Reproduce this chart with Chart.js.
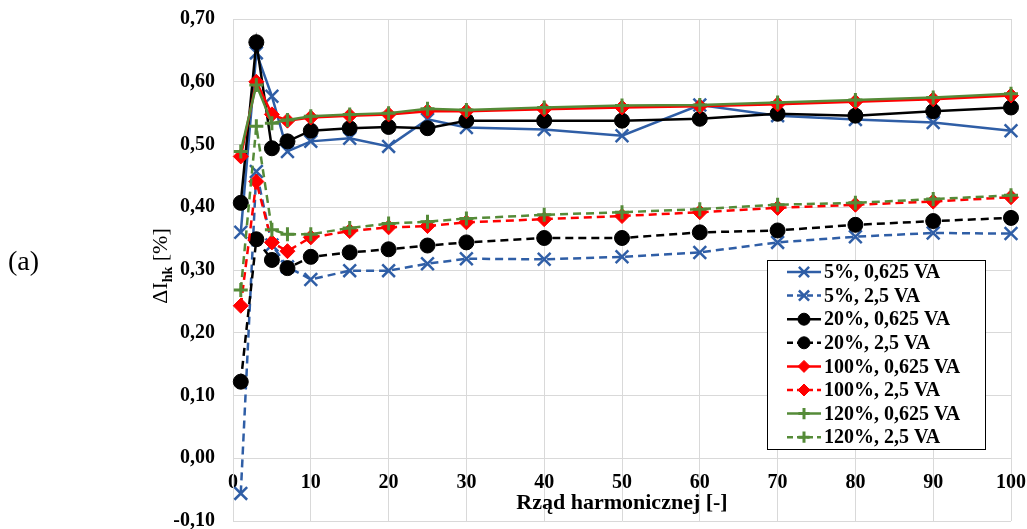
<!DOCTYPE html>
<html>
<head>
<meta charset="utf-8">
<script src="https://cdn.jsdelivr.net/npm/chart.js@4.4.1/dist/chart.umd.min.js"></script>
<style>
  html, body { margin: 0; padding: 0; background: #fff; }
  #wrap { width: 1027px; height: 529px; position: relative; }
</style>
</head>
<body>
<div id="wrap"><canvas id="chart"></canvas></div>
<script>
// harmonic order (x values)
const harmonics = [1, 3, 5, 7, 10, 15, 20, 25, 30, 40, 50, 60, 70, 80, 90, 100];

// ΔIhk [%] per series
const blue0625  = [0.360, 0.646, 0.577, 0.489, 0.505, 0.510, 0.497, 0.540, 0.527, 0.524, 0.514, 0.563, 0.546, 0.540, 0.535, 0.522];
const blue25    = [-0.056, 0.457, 0.340, 0.305, 0.285, 0.299, 0.299, 0.310, 0.318, 0.317, 0.321, 0.328, 0.344, 0.353, 0.359, 0.358];
const black0625 = [0.407, 0.663, 0.494, 0.505, 0.522, 0.526, 0.528, 0.526, 0.538, 0.538, 0.538, 0.541, 0.549, 0.546, 0.553, 0.559];
const black25   = [0.122, 0.349, 0.316, 0.303, 0.321, 0.328, 0.333, 0.339, 0.344, 0.351, 0.351, 0.360, 0.363, 0.372, 0.378, 0.383];
const red0625   = [0.481, 0.600, 0.548, 0.538, 0.543, 0.546, 0.548, 0.553, 0.553, 0.556, 0.559, 0.561, 0.564, 0.568, 0.572, 0.578];
const red25     = [0.243, 0.441, 0.344, 0.330, 0.352, 0.362, 0.368, 0.370, 0.376, 0.381, 0.386, 0.392, 0.399, 0.404, 0.409, 0.416];
const green0625 = [0.489, 0.595, 0.534, 0.539, 0.545, 0.548, 0.550, 0.557, 0.555, 0.559, 0.562, 0.563, 0.567, 0.571, 0.575, 0.581];
const green25   = [0.268, 0.529, 0.364, 0.357, 0.357, 0.367, 0.374, 0.377, 0.382, 0.388, 0.392, 0.397, 0.404, 0.407, 0.413, 0.419];

const seriesLabels = ['5%, 0,625 VA', '5%, 2,5 VA', '20%, 0,625 VA', '20%, 2,5 VA',
                      '100%, 0,625 VA', '100%, 2,5 VA', '120%, 0,625 VA', '120%, 2,5 VA'];
const seriesValues = [blue0625, blue25, black0625, black25, red0625, red25, green0625, green25];

const BLUE = '#2F5EA6', RED = '#FF0000', GREEN = '#558B38', BLACK = '#000000';
const styles = [
  { color: BLUE,  dash: [],     point: 'crossRot', radius: 9,   bw: 2.5 },
  { color: BLUE,  dash: [8, 5], point: 'crossRot', radius: 9,   bw: 2.5 },
  { color: BLACK, dash: [],     point: 'circle',   radius: 7.5, bw: 1 },
  { color: BLACK, dash: [8, 5], point: 'circle',   radius: 7.5, bw: 1 },
  { color: RED,   dash: [],     point: 'rectRot',  radius: 7.5, bw: 1 },
  { color: RED,   dash: [8, 5], point: 'rectRot',  radius: 7.5, bw: 1 },
  { color: GREEN, dash: [],     point: 'cross',    radius: 7,   bw: 3 },
  { color: GREEN, dash: [8, 5], point: 'cross',    radius: 7,   bw: 3 }
];

const datasets = seriesValues.map((vals, i) => ({
  label: seriesLabels[i],
  data: vals.map((v, j) => ({ x: harmonics[j], y: v })),
  borderColor: styles[i].color,
  backgroundColor: styles[i].color,
  borderWidth: 2.5,
  borderDash: styles[i].dash,
  pointStyle: styles[i].point,
  pointRadius: styles[i].radius,
  pointBorderWidth: styles[i].bw,
  pointBackgroundColor: styles[i].color,
  pointBorderColor: styles[i].color,
  tension: 0,
  clip: false,
  order: seriesValues.length - i   // later series on top, like the original
}));

const SERIF = '"Liberation Serif", "Times New Roman", serif';

// titles, "(a)" and the boxed legend inside the plot
const extras = {
  id: 'extras',
  afterDraw(chart) {
    const ctx = chart.ctx;
    const area = chart.chartArea;
    ctx.save();

    // (a)
    ctx.fillStyle = '#000';
    ctx.font = '28px ' + SERIF;
    ctx.textAlign = 'left';
    ctx.textBaseline = 'middle';
    ctx.fillText('(a)', 8, 263);

    // y title: ΔI_hk [%]
    ctx.save();
    ctx.translate(159, 266);
    ctx.rotate(-Math.PI / 2);
    const mainFont = '22px ' + SERIF, subFont = 'bold 14px ' + SERIF;
    ctx.font = mainFont;
    const w1 = ctx.measureText('ΔI').width;
    const w3 = ctx.measureText(' [%]').width;
    ctx.font = subFont;
    const w2 = ctx.measureText('hk').width;
    let x = -(w1 + w2 + w3) / 2;
    ctx.textAlign = 'left';
    ctx.textBaseline = 'alphabetic';
    ctx.font = mainFont;
    ctx.fillText('ΔI', x, 8);
    x += w1;
    ctx.font = subFont;
    ctx.fillText('hk', x, 13);
    x += w2;
    ctx.font = mainFont;
    ctx.fillText(' [%]', x, 8);
    ctx.restore();

    // x title
    ctx.font = 'bold 22px ' + SERIF;
    ctx.textAlign = 'center';
    ctx.textBaseline = 'middle';
    ctx.fillText('Rząd harmonicznej [-]', (area.left + area.right) / 2, 503);

    // legend
    const lx = 767, ly = 260, lw = 218, lh = 189;
    ctx.fillStyle = '#fff';
    ctx.fillRect(lx, ly, lw, lh);
    ctx.strokeStyle = '#000';
    ctx.lineWidth = 1;
    ctx.strokeRect(lx + 0.5, ly + 0.5, lw, lh);
    seriesLabels.forEach((label, i) => {
      const st = styles[i];
      const y = 272 + i * 23.6;
      ctx.save();
      ctx.strokeStyle = st.color;
      ctx.fillStyle = st.color;
      ctx.lineWidth = 2.5;
      ctx.setLineDash(st.dash.length ? [6, 4] : []);
      ctx.beginPath();
      ctx.moveTo(787, y);
      ctx.lineTo(821, y);
      ctx.stroke();
      ctx.setLineDash([]);
      ctx.lineWidth = st.bw;
      Chart.helpers.drawPoint(ctx, {
        pointStyle: st.point,
        radius: st.radius * 0.8,
        borderWidth: st.bw,
        rotation: 0
      }, 804, y);
      ctx.restore();
      ctx.fillStyle = '#000';
      ctx.font = 'bold 20px ' + SERIF;
      ctx.textAlign = 'left';
      ctx.textBaseline = 'middle';
      ctx.fillText(label, 824, y + 1);
    });

    ctx.restore();
  }
};

new Chart(document.getElementById('chart'), {
  type: 'line',
  data: { datasets: datasets },
  options: {
    responsive: true,
    maintainAspectRatio: false,
    animation: false,
    layout: { autoPadding: false, padding: { left: 173, right: 16, top: 19, bottom: 8 } },
    plugins: {
      legend: { display: false },
      tooltip: { enabled: false },
      title: { display: false }
    },
    scales: {
      x: {
        type: 'linear',
        position: { y: 0 },
        min: 0,
        max: 100,
        afterFit(scale) { scale.paddingLeft = 0; scale.paddingRight = 0; },
        grid: { color: '#d9d9d9', lineWidth: 1, drawTicks: false },
        border: { display: false },
        ticks: {
          stepSize: 10,
          padding: 13,
          color: '#000',
          maxRotation: 0,
          font: { family: SERIF, size: 20, weight: 'bold' }
        }
      },
      y: {
        min: -0.1,
        max: 0.7,
        afterFit(scale) { scale.width = 60; scale.paddingTop = 0; scale.paddingBottom = 0; },
        grid: { color: '#d9d9d9', lineWidth: 1, drawTicks: false },
        border: { color: '#d9d9d9' },
        ticks: {
          stepSize: 0.1,
          padding: 18,
          color: '#000',
          font: { family: SERIF, size: 20, weight: 'bold', lineHeight: 0.8 },
          callback: (v) => (Math.abs(v) < 1e-9 ? 0 : v).toFixed(2).replace('.', ',')
        }
      }
    }
  },
  plugins: [extras]
});
</script>
</body>
</html>
